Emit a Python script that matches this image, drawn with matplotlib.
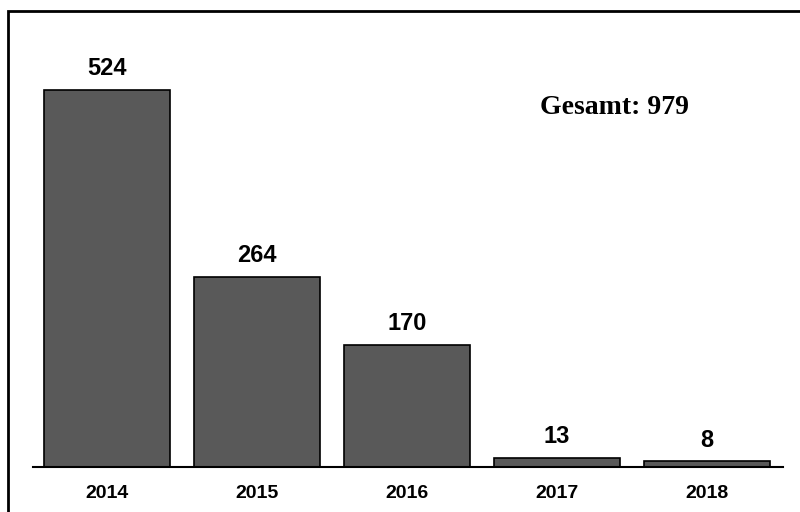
import matplotlib.pyplot as plt
from matplotlib.patches import Rectangle

years = ["2014", "2015", "2016", "2017", "2018"]
counts = [524, 264, 170, 13, 8]
total_label = "Gesamt: 979"

W, H = 800, 512
fig = plt.figure(figsize=(8, 5.12), dpi=100)

# axes placement in pixels: x 33..783, y baseline 467, top chosen so 524 -> y=90
px_per_unit = (467 - 90) / 524
ax_top_val = 600
ax_h_px = ax_top_val * px_per_unit
ax = fig.add_axes([33 / W, (H - 467) / H, 750 / W, ax_h_px / H])

x = range(len(years))
bars = ax.bar(x, counts, width=0.84, color="#595959", edgecolor="black", linewidth=1.2)
ax.set_xlim(-0.493, 4.507)
ax.set_ylim(0, ax_top_val)

for xi, v in zip(x, counts):
    ax.annotate(str(v), (xi, v), xytext=(0, 7), textcoords="offset points",
                ha="center", va="bottom", fontsize=17, fontweight="bold",
                family="Liberation Sans")

ax.set_xticks(list(x))
ax.set_xticklabels(years, fontsize=14, fontweight="bold", family="Liberation Sans")
ax.tick_params(axis="x", length=0, pad=13)
ax.set_yticks([])
for s in ["top", "right", "left"]:
    ax.spines[s].set_visible(False)
ax.spines["bottom"].set_linewidth(1.5)

fig.text(540 / W, 1 - 108 / H, total_label, fontsize=20, fontweight="bold",
         family="Liberation Serif", ha="left", va="center")

# outer frame, cut off at right and bottom edges
fig.patches.append(Rectangle((8 / W, -0.1), 1.2, 1 - 11 / H + 0.1, transform=fig.transFigure,
                             fill=False, edgecolor="black", linewidth=2))

fig.savefig("out.png", dpi=100)
